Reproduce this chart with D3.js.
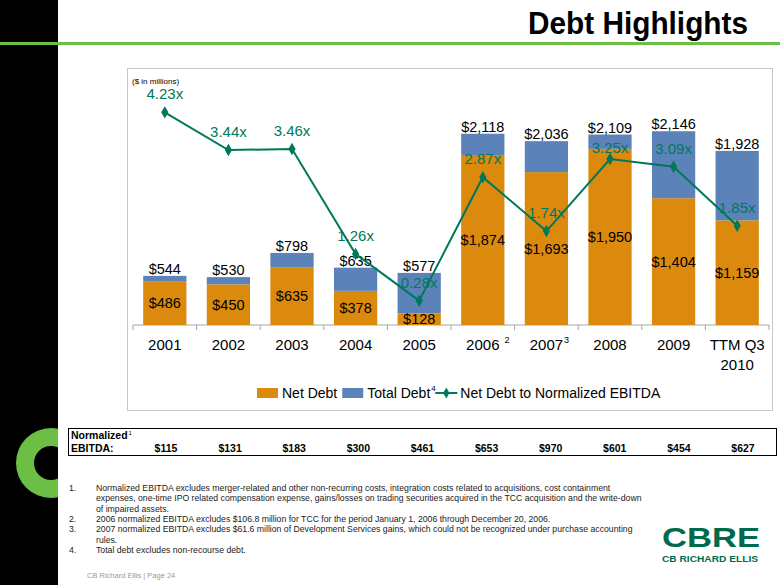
<!DOCTYPE html>
<html><head><meta charset="utf-8">
<script src="https://cdn.jsdelivr.net/npm/d3@7"></script>
<style>
body{margin:0;background:#fff}
svg{display:block}
text{font-family:"Liberation Sans",Arial,Helvetica,sans-serif}
</style>
</head><body>
<svg id="c" width="780" height="585"></svg>
<script>
// ---- data ----
const categories = ["2001","2002","2003","2004","2005","2006","2007","2008","2009","TTM Q3|2010"];
const categoryNotes = ["","","","","","2","3","","",""];
const netDebt = [486,450,635,378,128,1874,1693,1950,1404,1159];
const totalDebt = [544,530,798,635,577,2118,2036,2109,2146,1928];
const ratio = [4.23,3.44,3.46,1.26,0.28,2.87,1.74,3.25,3.09,1.85];
const ebitda = [115,131,183,300,461,653,970,601,454,627];
const seriesNames = ["Net Debt","Total Debt","Net Debt to Normalized EBITDA"];
const footnotes = [
  ["Normalized EBITDA excludes merger-related and other non-recurring costs, integration costs related to acquisitions, cost containment",
   "expenses, one-time IPO related compensation expense, gains/losses on trading securities acquired in the TCC acquisition and the write-down",
   "of impaired assets."],
  ["2006 normalized EBITDA excludes $106.8 million for TCC for the period January 1, 2006 through December 20, 2006."],
  ["2007 normalized EBITDA excludes $61.6 million of Development Services gains, which could not be recognized under purchase accounting",
   "rules."],
  ["Total debt excludes non-recourse debt."]
];

const ORANGE = "#DB8A0E", BLUE = "#5B83BA", TEAL = "#00785A", GREEN = "#6CBE45", CBGREEN = "#006A4D";
const fmt = d3.format(",");
const svg = d3.select("#c");

// ---- frame ----
svg.append("rect").attr("x",0).attr("y",0).attr("width",58).attr("height",585).attr("fill","#000");
svg.append("defs").append("clipPath").attr("id","side")
  .append("rect").attr("x",0).attr("y",0).attr("width",58).attr("height",585);
svg.append("g").attr("clip-path","url(#side)")
  .append("path")
  .attr("d", d3.arc()({innerRadius:17, outerRadius:35, startAngle:0, endAngle:2*Math.PI}))
  .attr("transform","translate(51,463)").attr("fill",GREEN);
svg.append("rect").attr("x",0).attr("y",42).attr("width",780).attr("height",3).attr("fill",GREEN);
svg.append("text").attr("x",748).attr("y",34).attr("text-anchor","end")
  .attr("font-size",31).attr("font-weight","bold").attr("fill","#000")
  .attr("textLength",220).attr("lengthAdjust","spacingAndGlyphs").text("Debt Highlights");

// chart box
svg.append("rect").attr("x",127.5).attr("y",68.5).attr("width",645).attr("height",342)
  .attr("fill","none").attr("stroke","#C8C8C8");
svg.append("text").attr("x",132).attr("y",84).attr("font-size",8).attr("fill","#000").text("($ in millions)");

// ---- scales ----
const x = d3.scaleBand().domain(categories).range([133,769]).paddingInner(0.32).paddingOuter(0.16);
const y = d3.scaleLinear().domain([0,2500]).range([325,99.25]);
const y2 = d3.scaleLinear().domain([0,4.5]).range([314,99.5]);
const cx = c => x(c) + x.bandwidth()/2;

// axis
const axisG = svg.append("g").attr("transform","translate(0,325)");
axisG.append("line").attr("x1",133).attr("x2",769).attr("stroke","#A6A6A6");
const bounds = categories.map(c => x(c) - x.step()*x.paddingInner()/2).concat([769]);
axisG.selectAll("line.t").data(bounds).join("line").attr("class","t")
  .attr("x1",d=>d).attr("x2",d=>d).attr("y1",0).attr("y2",5).attr("stroke","#A6A6A6");

// bars
const rows = categories.map((c,i)=>({c, net:netDebt[i], total:totalDebt[i], r:ratio[i], note:categoryNotes[i]}));
svg.selectAll("rect.net").data(rows).join("rect").attr("class","net")
  .attr("x",d=>x(d.c)).attr("width",x.bandwidth())
  .attr("y",d=>y(d.net)).attr("height",d=>y(0)-y(d.net)).attr("fill",ORANGE);
svg.selectAll("rect.tot").data(rows).join("rect").attr("class","tot")
  .attr("x",d=>x(d.c)).attr("width",x.bandwidth())
  .attr("y",d=>y(d.total)).attr("height",d=>y(d.net)-y(d.total)).attr("fill",BLUE);

// bar labels
const tlY = d => y(d.total)-2;
svg.selectAll("text.tl").data(rows).join("text").attr("class","tl")
  .attr("x",d=>cx(d.c)).attr("y",tlY).attr("text-anchor","middle")
  .attr("font-size",14.5).attr("fill","#000").text(d=>"$"+fmt(d.total));
svg.selectAll("text.nl").data(rows).join("text").attr("class","nl")
  .attr("x",d=>cx(d.c)).attr("y",d=>(y(d.net)+y(0))/2+5).attr("text-anchor","middle")
  .attr("font-size",14.5).attr("fill","#000").text(d=>"$"+fmt(d.net));

// line
const line = d3.line().x(d=>cx(d.c)).y(d=>y2(d.r));
svg.append("path").datum(rows).attr("d",line).attr("fill","none").attr("stroke",TEAL).attr("stroke-width",2);
svg.selectAll("path.mk").data(rows).join("path").attr("class","mk")
  .attr("d",d3.symbol(d3.symbolDiamond).size(45)())
  .attr("transform",d=>`translate(${cx(d.c)},${y2(d.r)})`).attr("fill",TEAL);
// ratio labels above points; pushed below the total label if they would collide with it
const rlY = d => {
  const above = y2(d.r) - 13;
  return Math.abs(above - tlY(d)) < 14 ? tlY(d) + 20 : above;
};
svg.selectAll("text.rl").data(rows).join("text").attr("class","rl")
  .attr("x",d=>cx(d.c)).attr("y",rlY).attr("text-anchor","middle")
  .attr("font-size",15).attr("fill",TEAL).text(d=>d.r.toFixed(2)+"x");

// category labels
const cl = svg.selectAll("g.cl").data(rows).join("g").attr("class","cl");
cl.each(function(d){
  const g = d3.select(this);
  const parts = d.c.split("|");
  parts.forEach((p,k)=>{
    const t = g.append("text").attr("x",cx(d.c)).attr("y",350+k*20).attr("text-anchor","middle")
      .attr("font-size",15).attr("fill","#000").text(p);
    if(d.note && k===0){
      const w = t.node().getComputedTextLength();
      g.append("text").attr("x",cx(d.c)+w/2+(d.note==="2"?5:1)).attr("y",343)
        .attr("font-size",9).attr("fill","#000").text(d.note);
    }
  });
});

// legend
const lg = svg.append("g");
let lx = 257; const ly = 393;
lg.append("rect").attr("x",lx).attr("y",ly-5).attr("width",21).attr("height",10).attr("fill",ORANGE);
lx += 25;
let t = lg.append("text").attr("x",lx).attr("y",ly+5).attr("font-size",14).text(seriesNames[0]);
lx += t.node().getComputedTextLength()+5;
lg.append("rect").attr("x",lx).attr("y",ly-5).attr("width",21).attr("height",10).attr("fill",BLUE);
lx += 25;
t = lg.append("text").attr("x",lx).attr("y",ly+5).attr("font-size",14).text(seriesNames[1]);
lx += t.node().getComputedTextLength();
lg.append("text").attr("x",lx+1).attr("y",ly-2).attr("font-size",8).text("4");
lx += 5;
lg.append("line").attr("x1",lx).attr("x2",lx+22).attr("y1",ly).attr("y2",ly).attr("stroke",TEAL).attr("stroke-width",2);
lg.append("path").attr("d",d3.symbol(d3.symbolDiamond).size(35)()).attr("transform",`translate(${lx+11},${ly})`).attr("fill",TEAL);
lx += 25;
lg.append("text").attr("x",lx).attr("y",ly+5).attr("font-size",14).text(seriesNames[2]);

// EBITDA table
svg.append("rect").attr("x",68.5).attr("y",428.5).attr("width",708).attr("height",27)
  .attr("fill","none").attr("stroke","#000").attr("stroke-width",1);
const tf = '"Liberation Sans Narrow","Arial Narrow","Liberation Sans",Arial,sans-serif';
const nt = svg.append("text").attr("x",71).attr("y",439).attr("font-size",10.5).attr("font-weight","bold")
  .attr("font-family",tf).text("Normalized");
svg.append("text").attr("x",71+nt.node().getComputedTextLength()+1).attr("y",434.5)
  .attr("font-size",6).attr("font-family",tf).text("1");
svg.append("text").attr("x",71).attr("y",452).attr("font-size",10.5).attr("font-weight","bold")
  .attr("font-family",tf).text("EBITDA:");
const tx = d3.scalePoint().domain(d3.range(ebitda.length)).range([166,743]);
svg.selectAll("text.eb").data(ebitda).join("text").attr("class","eb")
  .attr("x",(d,i)=>tx(i)).attr("y",452).attr("text-anchor","middle")
  .attr("font-size",10.5).attr("font-weight","bold").attr("font-family",tf).text(d=>"$"+d);

// footnotes
let fy = 491;
footnotes.forEach((lines,i)=>{
  svg.append("text").attr("x",69).attr("y",fy).attr("font-size",8.7).attr("fill","#222").text((i+1)+".");
  lines.forEach(l=>{
    svg.append("text").attr("x",96).attr("y",fy).attr("font-size",8.7).attr("fill","#222").text(l);
    fy += 10.3;
  });
});
svg.append("text").attr("x",87).attr("y",578).attr("font-size",7.5).attr("fill","#999").text("CB Richard Ellis  |  Page 24");

// logo
svg.append("text").attr("x",662).attr("y",547).attr("font-size",28).attr("font-weight","bold")
  .attr("fill",CBGREEN).attr("textLength",98).attr("lengthAdjust","spacingAndGlyphs").text("CBRE");
svg.append("text").attr("x",662).attr("y",562).attr("font-size",9).attr("font-weight","bold")
  .attr("fill",CBGREEN).attr("textLength",96).attr("lengthAdjust","spacingAndGlyphs").text("CB RICHARD ELLIS");
</script>
</body></html>
